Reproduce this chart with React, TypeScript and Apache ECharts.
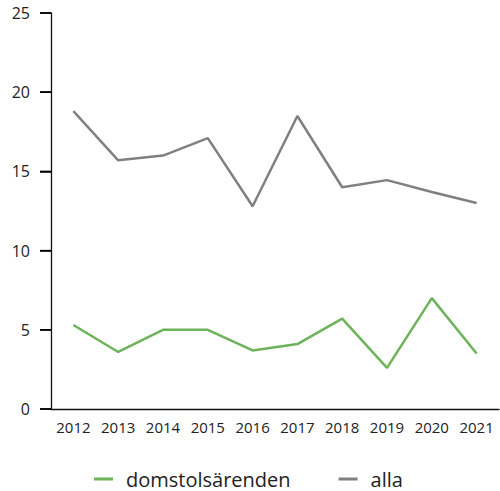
import React, { useEffect, useRef } from "react";
import * as echarts from "echarts";

const years = ["2012", "2013", "2014", "2015", "2016", "2017", "2018", "2019", "2020", "2021"];
const domstol = [5.3, 3.6, 5.0, 5.0, 3.7, 4.1, 5.7, 2.6, 7.0, 3.5];
const alla = [18.8, 15.7, 16.0, 17.1, 12.8, 18.5, 14.0, 14.45, 13.7, 13.0];
const yTicks = [0, 5, 10, 15, 20, 25];

export default function App() {
  const ref = useRef<HTMLDivElement>(null);
  useEffect(() => {
    const chart = echarts.init(ref.current!, undefined, { renderer: "svg" });
    const font = "'Open Sans', 'Noto Sans', sans-serif";
    const gridLeft = 51;
    chart.setOption({
      animation: false,
      textStyle: { fontFamily: font },
      grid: { left: gridLeft, right: 1, top: 13, bottom: 82, containLabel: false },
      legend: {
        bottom: -3,
        left: 89,
        itemWidth: 19,
        itemHeight: 3,
        itemGap: 48,
        icon: "rect",
        textStyle: { fontSize: 20, color: "#222", fontFamily: font, padding: [0, 0, 0, 8] },
        data: ["domstolsärenden", "alla"],
      },
      xAxis: {
        type: "category",
        data: years,
        boundaryGap: true,
        axisLine: { lineStyle: { color: "#111", width: 1.3 } },
        axisTick: { inside: true, length: 10, lineStyle: { color: "#111", width: 1.3 } },
        axisLabel: { color: "#222", fontSize: 15, margin: 10, fontFamily: font },
      },
      yAxis: {
        type: "value",
        min: 0,
        max: 25,
        interval: 5,
        splitLine: { show: false },
        axisLine: { show: true, lineStyle: { color: "#111", width: 1.3 } },
        axisTick: { show: true, length: 11, lineStyle: { color: "#000", width: 1.5 } },
        axisLabel: { color: "#222", fontSize: 16, margin: 21, fontFamily: font },
      },
      series: [
        {
          name: "domstolsärenden",
          type: "line",
          data: domstol,
          symbol: "none",
          color: "#6cb35a",
          lineStyle: { width: 2.5, color: "#6cb35a" },
        },
        {
          name: "alla",
          type: "line",
          data: alla,
          symbol: "none",
          color: "#808080",
          lineStyle: { width: 2.5, color: "#808080" },
        },
      ],
    });
    const tickLines = yTicks.map((v) => {
      const y = chart.convertToPixel({ yAxisIndex: 0 }, v) as number;
      return {
        type: "line",
        z: 100,
        shape: { x1: gridLeft - 11, y1: y, x2: gridLeft, y2: y },
        style: { stroke: "#000", lineWidth: 1.5 },
        silent: true,
      };
    });
    chart.setOption({ graphic: tickLines });
    return () => chart.dispose();
  }, []);
  return <div ref={ref} style={{ width: 500, height: 491, position: "absolute", left: 0, top: 0 }} />;
}
